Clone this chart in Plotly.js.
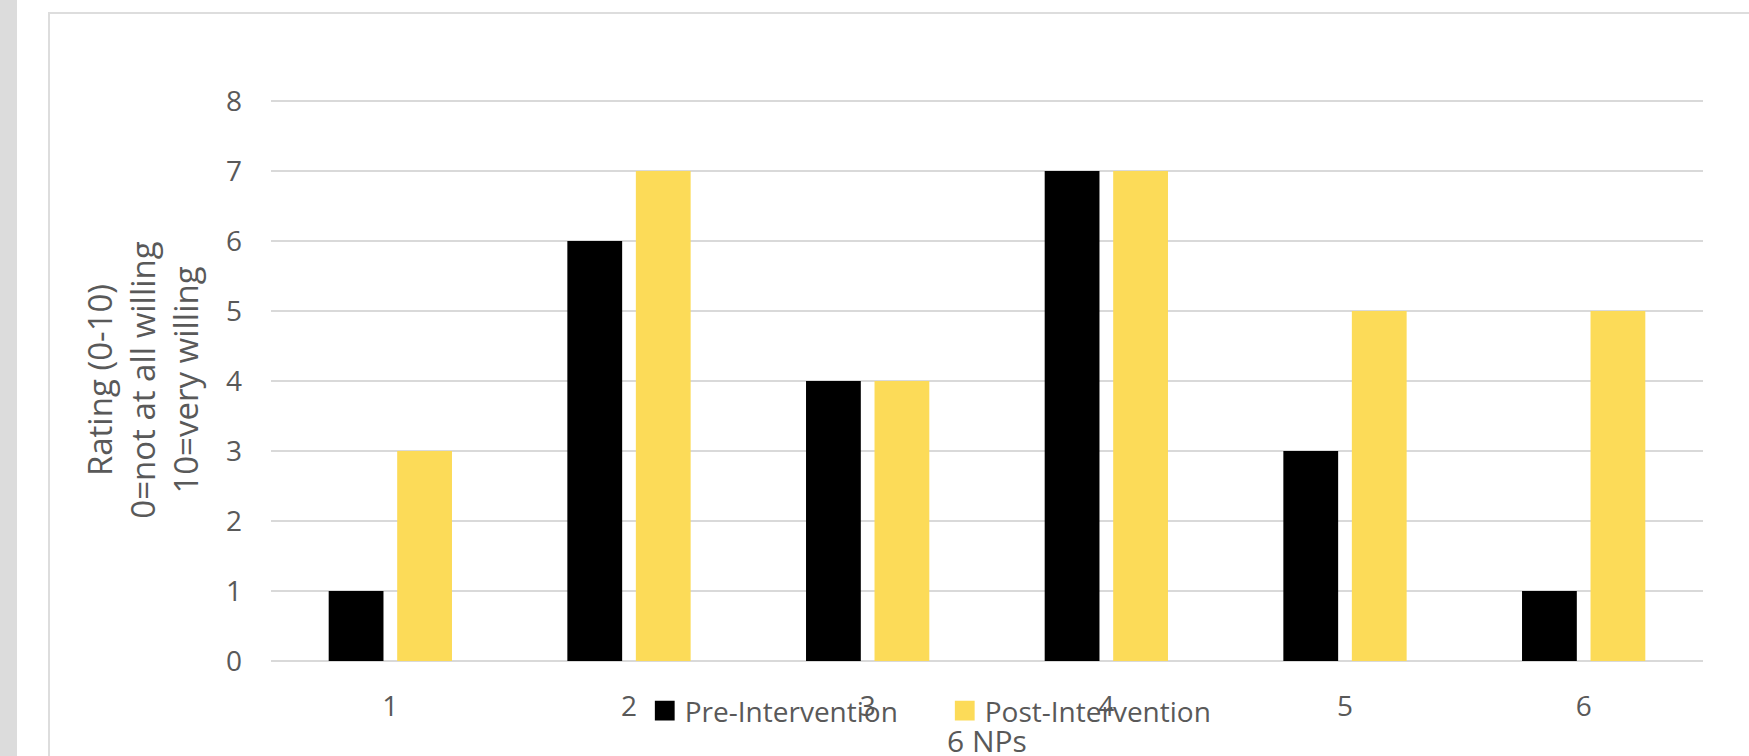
<!DOCTYPE html>
<html>
<head>
<meta charset="utf-8">
<script src="https://cdn.plot.ly/plotly-3.0.1.min.js"></script>
<style>
  html, body { margin: 0; padding: 0; background: #ffffff; width: 1749px; height: 756px; overflow: hidden; }
  #strip { position: absolute; left: 0; top: 0; width: 17px; height: 756px; background: #dcdcdc; }
  #frame { position: absolute; left: 48px; top: 12px; width: 1800px; height: 900px;
           border-left: 2px solid #dddddd; border-top: 2px solid #dddddd; }
  #chart { position: absolute; left: 0; top: 0; width: 1749px; height: 756px; }
</style>
</head>
<body>
<div id="strip"></div>
<div id="frame"></div>
<div id="chart"></div>
<script>
// ---- data ----
const categories = ["1", "2", "3", "4", "5", "6"];
const preIntervention = [1, 6, 4, 7, 3, 1];
const postIntervention = [3, 7, 4, 7, 5, 5];
const seriesNames = ["Pre-Intervention", "Post-Intervention"];
const yTickValues = [0, 1, 2, 3, 4, 5, 6, 7, 8];
const xTitle = "6 NPs";
const yTitle = "Rating (0-10)<br>0=not at all willing<br>10=very willing";

const textColor = "#595959";
const fontFamily = "'Open Sans', 'Noto Sans', sans-serif";

const traces = [
  { type: "bar", name: seriesNames[0], x: categories, y: preIntervention,
    marker: { color: "#000000" }, hoverinfo: "skip" },
  { type: "bar", name: seriesNames[1], x: categories, y: postIntervention,
    marker: { color: "#FCDB58" }, hoverinfo: "skip" }
];

const layout = {
  width: 1749, height: 756,
  margin: { l: 271, r: 46, t: 99, b: 95, pad: 0 },
  paper_bgcolor: "rgba(0,0,0,0)",
  plot_bgcolor: "rgba(0,0,0,0)",
  font: { family: fontFamily, color: textColor, size: 28 },
  barmode: "group",
  bargap: 0.426,
  bargroupgap: 0.2,
  showlegend: true,
  legend: {
    orientation: "h",
    x: 0.261, xanchor: "left",
    y: -0.089, yanchor: "middle",
    bgcolor: "rgba(0,0,0,0)",
    font: { family: fontFamily, color: textColor, size: 28 },
    entrywidth: 255, entrywidthmode: "pixels",
    traceorder: "normal"
  },
  annotations: [
    { text: xTitle, xref: "paper", yref: "paper", x: 0.5, y: -0.142,
      xanchor: "center", yanchor: "middle", showarrow: false,
      font: { family: fontFamily, color: textColor, size: 30 } }
  ],
  xaxis: {
    type: "category",
    showgrid: false, zeroline: false, showline: false,
    ticks: "",
    tickfont: { family: fontFamily, color: textColor, size: 28 },
    ticklabelstandoff: 26,
    automargin: false
  },
  yaxis: {
    range: [0, 8.03],
    tickvals: yTickValues,
    showgrid: true, gridcolor: "#d9d9d9", gridwidth: 1.5,
    zeroline: true, zerolinecolor: "#d9d9d9", zerolinewidth: 1.5,
    showline: false, ticks: "",
    tickfont: { family: fontFamily, color: textColor, size: 28 },
    ticklabelstandoff: 28,
    automargin: false,
    title: { text: yTitle, standoff: 17, font: { family: fontFamily, color: textColor, size: 33 } }
  }
};

Plotly.newPlot("chart", traces, layout, { staticPlot: true, displayModeBar: false }).then(function (gd) {
  // enlarge the legend swatches to match the reference's bigger squares
  gd.querySelectorAll(".legendpoints path").forEach(function (p) {
    const t = p.getAttribute("transform") || "";
    p.setAttribute("transform", t + " scale(1.65)");
  });
});
</script>
</body>
</html>
